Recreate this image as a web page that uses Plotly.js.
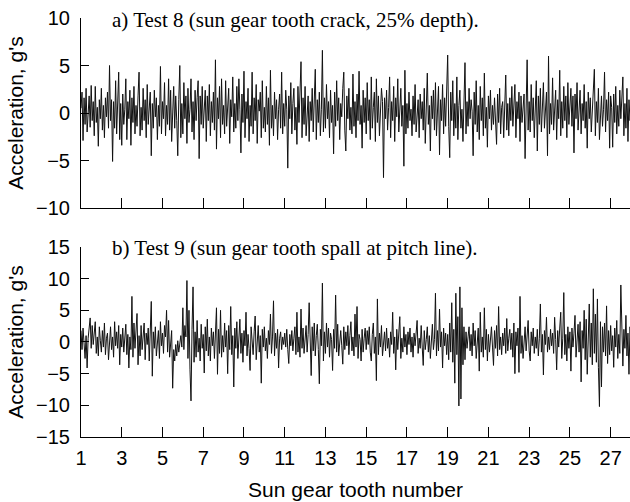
<!DOCTYPE html>
<html>
<head>
<meta charset="utf-8">
<script src="https://cdn.plot.ly/plotly-3.0.1.min.js"></script>
<style>html,body{margin:0;padding:0;background:#fff;}#chart{width:630px;height:502px;}</style>
</head>
<body>
<div id="chart"></div>
<script>
// Sampling of the signal along the sun gear tooth axis
var toothStart = 1;
var toothStep = 0.05;

// a) Test 8 (sun gear tooth crack, 25% depth) - acceleration, g's
var test8 = [
 0.5, 2.2, -2.9, 1.6, -1.2, 2.6, -2.0, 0.4, 1.8, -1.5, 2.9, -0.8, 1.2, -2.4, 2.8, -1.0, 0.6, -3.5, 1.4, -0.6,
 2.6, -1.8, 0.8, -2.6, 1.6, -0.4, 2.2, -1.6, 5.0, -0.8, 1.4, -5.1, 1.2, -1.6, 3.4, -2.2, 0.6, 4.3, -2.8, 1.0,
 -3.4, 2.0, -1.2, 0.4, 3.6, -2.8, 1.2, -0.6, 2.4, -3.4, 1.6, -1.0, 2.8, -2.2, 0.8, -1.4, 1.8, 4.3, -2.4, 0.6,
 -1.8, 2.6, -0.8, 1.4, -2.6, 3.0, -1.2, 0.6, 2.2, -4.5, 1.0, -1.6, 2.4, -0.4, 1.6, -2.8, 0.8, -1.4, 4.9, -2.2,
 1.2, -0.6, 3.2, -2.4, 0.8, -1.2, 3.6, -1.8, 2.4, -3.0, 0.6, 2.8, -1.6, 1.8, -0.8, -4.5, 1.4, 5.0, -2.6, 1.0,
 -2.2, 3.2, -0.6, 1.8, -3.2, 2.6, -1.0, 0.4, 3.6, -2.0, 1.2, -2.8, 2.4, -0.8, 1.6, 3.4, -4.8, 1.8, -1.2, 2.8,
 -1.6, 0.6, 2.4, -3.0, 1.8, -0.8, 3.0, -2.4, 1.2, -1.0, 2.2, -1.8, 5.6, -3.8, 1.6, -0.6, 2.8, -2.6, 3.6, -1.2,
 0.8, -2.2, 3.4, -1.4, 0.6, 2.6, -3.2, 1.4, -0.4, 3.8, -2.0, 1.0, -1.6, 2.8, -0.8, 3.6, 0.4, -4.2, 2.0, -1.0,
 4.4, -2.6, 1.2, -0.6, 2.6, -3.0, 0.8, -1.4, 4.3, -2.2, 1.6, -0.8, 3.0, -3.2, 1.4, 0.2, 2.2, -2.6, 3.4, -1.6,
 0.6, -2.0, 2.8, -1.2, 1.6, -3.4, 4.5, -1.6, 0.8, -2.4, 2.2, -0.6, 1.4, -2.8, 0.4, 2.0, -1.6, 4.3, -2.2, 1.0,
 -1.4, 2.4, 0.4, -5.8, 1.8, -0.6, 3.2, -2.2, 1.0, 2.6, -1.8, 0.6, -3.3, 2.8, -1.0, 1.4, 5.4, -2.6, 1.6, -1.2,
 2.8, -2.4, 0.6, 1.8, -3.0, 1.2, -0.8, 2.6, -2.0, 0.8, 4.6, -2.8, 1.4, -1.0, 2.2, -2.4, 0.4, 6.6, -2.0, 1.6,
 -1.6, 3.0, -0.6, 1.2, -2.6, 2.4, -1.0, 0.8, -4.3, 2.2, -1.4, 3.4, -0.8, 1.6, -2.8, 1.0, -0.4, 2.6, 4.3, -1.8,
 -4.0, 1.8, -0.6, 2.6, -1.8, 0.6, -2.2, 4.1, -1.4, 1.2, -2.6, 2.0, -0.8, 4.4, -1.2, 0.8, -3.7, 2.4, -1.0, 1.6,
 -2.2, 3.2, -0.8, 1.4, -2.8, 3.8, -1.6, 0.6, 2.2, -3.0, 3.6, -1.0, 1.8, -2.4, 0.4, 2.6, 1.2, -6.8, 1.6, -0.6,
 2.4, -1.8, 0.6, 3.8, -2.6, 1.2, -0.8, 2.8, -3.0, 1.6, -0.4, 3.6, -2.0, 1.0, 2.6, -1.4, 0.8, -5.6, 4.5, -2.2,
 1.0, -1.6, 2.2, -0.8, 0.4, -2.4, 1.8, -1.2, 3.0, -2.0, 0.6, 1.4, -2.6, 2.0, -0.6, 1.2, -1.8, 2.6, -3.2, 1.6,
 4.2, -1.2, 0.8, -4.0, 1.8, -0.6, 2.4, -1.8, 3.2, -2.4, 0.6, 2.8, -4.4, 1.4, -0.8, 3.0, -2.2, 1.6, -1.4, 2.2,
 6.1, -1.4, -4.7, 2.2, -0.8, 3.4, -2.4, 1.0, -1.6, 3.8, -2.8, 0.8, 2.4, -1.6, 0.4, -3.0, 1.8, 5.3, -2.2, 1.2,
 -1.4, 2.6, -0.6, 1.4, 0.2, -4.5, 2.2, -1.2, 3.4, -2.0, 0.8, -2.8, 2.8, -0.8, 1.6, -2.4, 4.2, -1.6, 0.6, -3.6,
 1.8, -0.6, 2.4, -1.8, 0.8, -1.2, 1.6, -0.4, -3.3, 2.0, -1.0, 2.6, -2.2, 0.6, 1.2, -2.6, 0.8, 4.0, -1.8, 1.0,
 -2.4, 1.6, -0.8, 2.8, -1.4, 0.4, 3.0, -2.6, 1.2, -0.6, 2.2, -3.0, 1.8, -1.0, 0.6, 2.0, -4.8, 0.8, 5.6, -1.8,
 1.2, -2.0, 3.0, -0.8, 1.6, -2.6, 0.6, 3.4, -4.0, 1.8, -1.2, 2.6, -2.0, 0.8, 3.2, -1.6, 1.0, 2.2, -4.5, 6.0,
 -2.2, 1.0, -1.2, 3.7, -1.8, 0.6, 2.4, -2.8, 1.4, -0.6, 4.5, -2.4, 1.2, -1.6, 2.8, -0.8, 1.8, -2.6, 3.2, -1.2,
 0.8, 2.6, -1.4, 1.8, -4.2, 2.0, -0.6, 3.2, -1.8, 0.4, 2.4, -2.2, 1.0, -0.8, 3.0, -1.6, 1.2, -3.7, 2.2, -0.6,
 1.6, -2.0, 0.8, 2.4, 4.6, -2.4, 1.2, -1.0, 2.6, -2.8, 0.6, 1.8, -1.4, 0.4, 4.3, -2.0, 1.4, -0.8, 2.2, -3.7,
 1.8, 0.6, -3.6, 2.0, -1.0, 2.8, -2.2, 0.8, -1.4, 2.4, -0.6, 1.2, 3.8, -2.4, 1.0, -1.6, 2.6, -3.0, 1.4, -0.8,
 0.6
];

// b) Test 9 (sun gear tooth spall at pitch line) - acceleration, g's
var test9 = [
 1.8, -1.2, 2.2, 0.4, -2.6, 1.0, -4.1, 0.6, 2.0, 3.8, -1.0, 2.6, -0.4, 1.4, 3.2, -1.8, 0.8, -2.2, 2.4, 0.2,
 -1.6, 1.8, -0.8, 3.0, -2.0, 0.6, 1.4, -2.8, 0.4, 2.4, -1.2, 0.8, -2.4, 3.2, -0.6, 1.6, -1.0, 2.6, -3.6, 1.2,
 -0.8, 2.2, -1.6, 0.6, 2.8, -2.0, 1.2, -4.1, 0.8, -1.2, 7.2, -2.4, 3.0, -1.0, 1.6, 4.5, -3.6, 1.0, -2.2, 2.6,
 -1.2, 0.6, 3.0, -2.8, 1.4, -0.4, 2.2, -3.0, 0.8, 6.4, -5.4, 1.6, -1.0, 2.4, -2.2, 0.4, 1.8, -2.6, 3.2, -0.6,
 1.4, -1.8, 2.6, 0.8, 5.0, -1.6, 3.4, -2.4, 0.6, 1.8, -7.3, -1.2, -3.0, -0.4, -2.2, 0.2, -1.6, -0.6, 1.0, -0.8,
 5.4, -1.2, 2.6, 0.8, 9.7, -2.6, 5.0, -4.4, -9.3, 2.0, 8.7, -3.2, 1.6, -2.4, 3.4, -1.6, 0.6, -3.0, 2.8, -1.0,
 1.2, -4.9, 2.4, -1.4, 3.6, -2.2, 0.8, -3.0, 2.2, -0.6, 1.6, -2.6, 0.4, 5.4, -5.1, 2.0, -1.8, 5.0, -2.4, 1.0,
 -1.6, 3.0, -0.8, 1.8, -5.0, 2.6, -1.2, 5.6, -2.0, 1.0, -7.1, 2.2, -1.0, 3.2, -2.6, 0.6, 3.6, -1.8, 1.4, -3.2,
 1.8, -0.6, 4.7, -2.2, 1.2, -1.0, -4.5, 2.4, 0.4, -2.0, 1.6, 4.1, -2.8, 0.8, 2.6, -1.6, 1.0, -6.5, 2.0, -0.8,
 2.4, -1.4, 0.6, -2.6, 1.8, -0.4, 4.4, -1.8, 0.8, 6.5, -2.2, 1.4, -1.0, 2.0, -4.1, 0.6, 1.6, -1.2, 0.8, -0.4,
 1.4, -0.8, 2.0, -1.2, -3.4, 1.2, -0.6, 1.8, -1.4, 0.6, 2.4, -2.0, 4.7, -1.6, 0.8, -2.4, 5.2, -1.0, 2.2, -1.8,
 0.6, 2.6, -1.6, 1.2, 6.2, -0.8, -5.3, 2.4, -1.4, 3.0, -2.2, 1.0, 2.8, -1.2, -6.6, 2.0, -0.6, 9.3, -3.0, 1.6,
 -1.8, 3.0, -0.8, 2.2, -2.4, 1.4, 0.4, -4.5, 2.0, -1.0, 7.4, -1.6, 2.8, -2.2, 0.6, 1.8, -0.6, -3.5, 2.4, -1.2,
 1.6, -0.6, 2.6, -2.0, 1.0, 3.2, -1.4, 0.8, -2.2, 4.4, -0.8, 5.6, -2.6, 1.2, 0.4, -3.0, 2.0, -1.6, 0.6, 2.2,
 -1.2, 1.8, -0.4, 2.4, -1.6, -3.0, 1.2, 3.0, -1.8, 0.8, -6.1, 6.8, -2.0, 1.4, -0.8, 2.6, -2.2, 0.4, 1.6, -1.4,
 2.2, -1.0, 0.6, -2.4, 1.6, -0.4, 4.7, -1.8, 0.8, -4.4, 2.0, -1.2, 1.4, 4.0, -2.6, 0.6, -1.6, 2.4, -0.8, 1.2,
 -2.0, 1.6, -0.4, 2.2, -1.6, 0.8, -2.4, 1.4, -0.6, 2.0, 3.4, -1.8, 0.6, -1.0, 2.6, -0.8, -3.7, 1.8, -1.2, 0.4,
 2.4, -1.6, 1.0, -2.6, 0.6, 2.8, -1.2, 0.4, 7.7, -2.2, 1.8, -1.4, 5.2, -0.8, 1.6, -4.1, 2.2, -0.6, 1.4, -2.0,
 1.2, -2.8, 3.0, -1.6, 6.2, -3.2, 2.0, -6.5, 7.7, -2.0, 4.0, -10.1, 8.7, -9.0, 5.4, -3.6, 2.4, -2.8, 1.6, -1.0,
 0.8, 2.4, -1.4, 1.2, -2.2, 3.0, -0.6, 1.8, -2.6, 0.4, 2.2, -4.6, 4.7, -1.6, 0.8, -2.4, 5.4, -1.2, 2.0, -3.0,
 1.2, -1.6, 0.6, 2.4, -0.8, -3.7, 1.8, -1.0, 2.6, -2.2, 5.6, -1.2, 0.8, -2.0, 1.4, -0.6, 2.2, -1.8, 3.7, -1.4,
 0.6, 2.0, -1.2, 1.4, -2.4, 3.0, -5.0, 1.6, -0.6, 2.2, -4.8, 7.2, -1.8, 1.0, -2.6, 0.8, 2.4, -1.4, 0.4, 3.4,
 -1.4, -3.0, 1.6, -0.6, 2.2, -1.8, 0.8, -1.0, 2.0, -2.2, 0.6, 6.0, -1.6, 1.2, -5.2, 1.8, -0.4, 3.9, -1.6, 0.8,
 -1.2, 2.0, -0.6, 1.4, -1.8, 3.9, 0.4, -4.4, 1.8, -0.8, 2.2, 4.7, -2.6, 0.6, 7.8, -2.0, 1.2, -3.0, 2.4, -1.0,
 1.6, -4.6, 2.2, -0.8, 1.4, 4.2, -2.4, 0.6, 2.8, -1.6, 3.2, -6.3, 1.8, -1.0, 5.0, -2.8, 3.6, -5.1, 2.6, 6.0,
 -2.4, 3.0, -3.6, 8.4, -1.8, 4.4, -3.2, 6.8, -4.0, -10.2, 3.2, -7.1, 2.4, -1.6, 3.0, -2.2, 5.7, -3.4, 1.8, -2.0,
 2.6, -1.4, 1.0, -4.0, 2.2, -0.8, 3.4, -2.6, 1.2, -1.8, 9.0, 0.4, -3.8, 2.0, -1.0, 4.2, -2.2, 1.4, -5.1, 2.4,
 -1.0
];

// Tick labels
var xTickVals = [1, 3, 5, 7, 9, 11, 13, 15, 17, 19, 21, 23, 25, 27];
var xTickText = ["1", "3", "5", "7", "9", "11", "13", "15", "17", "19", "21", "23", "25", "27"];
var yTickA = [-10, -5, 0, 5, 10];
var yTickB = [-15, -10, -5, 0, 5, 10, 15];

var panelTitleA = "a) Test 8 (sun gear tooth crack, 25% depth).";
var panelTitleB = "b) Test 9 (sun gear tooth spall at pitch line).";
var xTitle = "Sun gear tooth number";
var yTitle = "Acceleration, g's";

var sans = "Liberation Sans, Arial, sans-serif";
var serif = "Liberation Serif, Times New Roman, serif";

var traces = [
  {type: "scatter", mode: "lines", x0: toothStart, dx: toothStep, y: test8,
   xaxis: "x", yaxis: "y", line: {color: "#111", width: 1}, hoverinfo: "skip"},
  {type: "scatter", mode: "lines", x0: toothStart, dx: toothStep, y: test9,
   xaxis: "x2", yaxis: "y2", line: {color: "#111", width: 1}, hoverinfo: "skip"}
];

var common = {
  showline: true, linecolor: "#000", linewidth: 1, showgrid: false, zeroline: false,
  ticks: "inside", tickcolor: "#000", tickwidth: 1, tickfont: {family: sans, size: 20, color: "#000"}
};

function ax(extra) { return Object.assign({}, common, extra); }

var layout = {
  width: 630, height: 502,
  margin: {l: 81, r: 0, t: 18, b: 65},
  paper_bgcolor: "#fff", plot_bgcolor: "#fff",
  showlegend: false,
  xaxis: ax({domain: [0, 1], anchor: "y", range: [1, 27.95], tickvals: xTickVals.slice(1),
             showticklabels: false, ticklen: 10}),
  yaxis: ax({domain: [0.5465, 1], anchor: "x", range: [-10, 10], tickvals: yTickA, ticklen: 8,
             ticklabelstandoff: 6,
             title: {text: yTitle, font: {family: sans, size: 21, color: "#000"}, standoff: 6}}),
  xaxis2: ax({domain: [0, 1], anchor: "y2", range: [1, 27.95], tickvals: xTickVals, ticktext: xTickText,
              ticklen: 10, ticklabelstandoff: 3,
              title: {text: xTitle, font: {family: sans, size: 21, color: "#000"}, standoff: 14}}),
  yaxis2: ax({domain: [0, 0.4535], anchor: "x2", range: [-15, 15], tickvals: yTickB, ticklen: 8,
              ticklabelstandoff: 6,
              title: {text: yTitle, font: {family: sans, size: 21, color: "#000"}, standoff: 6}}),
  annotations: [
    {text: panelTitleA, xref: "paper", yref: "paper", x: 0.0528, y: 0.995, xanchor: "left", yanchor: "middle",
     showarrow: false, font: {family: serif, size: 21, color: "#000"}},
    {text: panelTitleB, xref: "paper", yref: "paper", x: 0.0528, y: 0.451, xanchor: "left", yanchor: "middle",
     showarrow: false, font: {family: serif, size: 21, color: "#000"}}
  ]
};

Plotly.newPlot("chart", traces, layout, {staticPlot: true, displayModeBar: false});
</script>
</body>
</html>
